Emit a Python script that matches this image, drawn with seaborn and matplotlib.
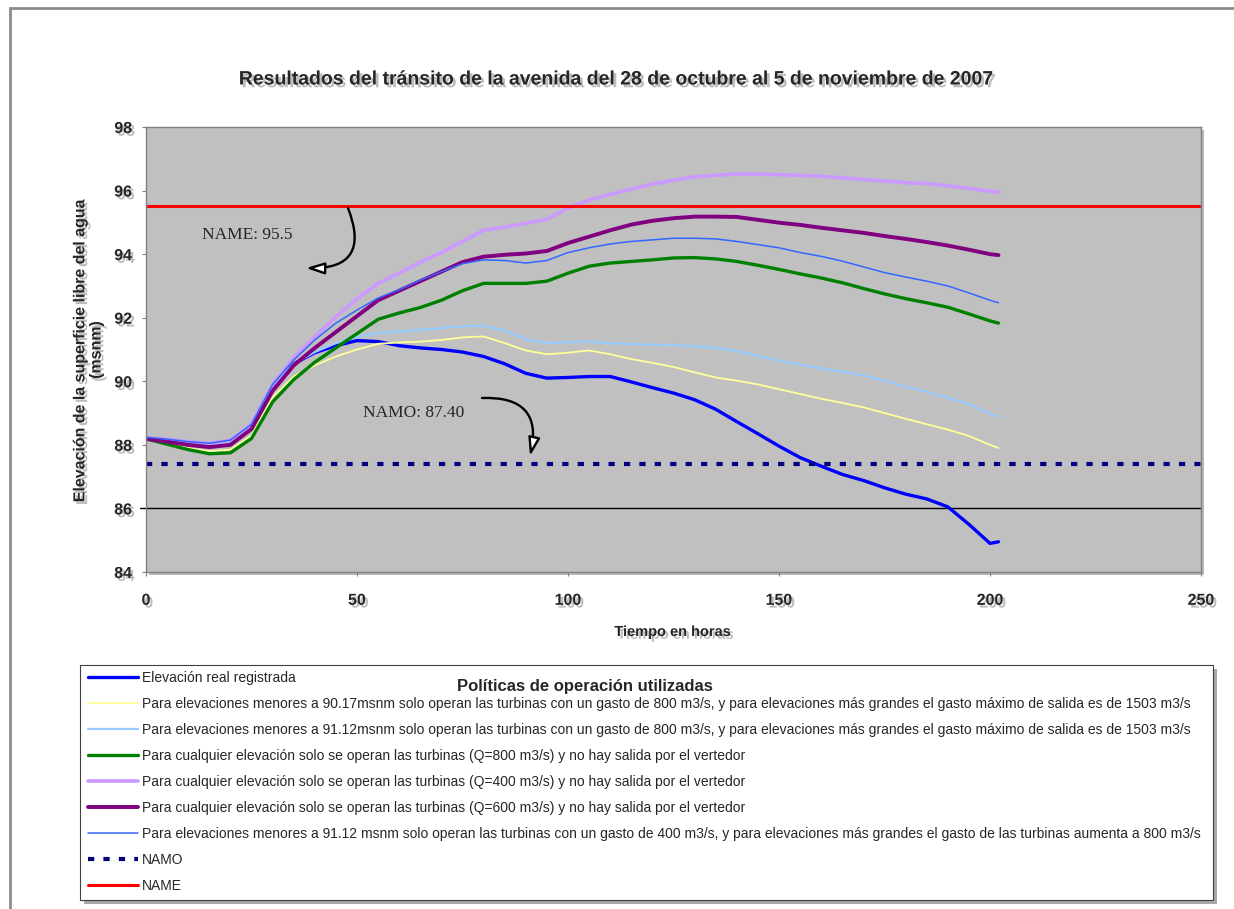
import matplotlib
matplotlib.use("Agg")
import matplotlib.pyplot as plt
import matplotlib.patheffects as pe
from matplotlib.patches import Rectangle
import seaborn as sns
import pandas as pd

# ---------------- data ----------------
horas = [0, 5, 10, 15, 20, 25, 30, 35, 40, 45, 50, 55, 60, 65, 70, 75, 80, 85, 90, 95,
         100, 105, 110, 115, 120, 125, 130, 135, 140, 145, 150, 155, 160, 165, 170, 175,
         180, 185, 190, 195, 200, 202]

elev_real = [88.20, 88.12, 88.02, 87.96, 88.05, 88.50, 89.85, 90.55, 90.90, 91.12, 91.28, 91.25,
             91.12, 91.05, 91.00, 90.92, 90.78, 90.55, 90.25, 90.10, 90.12, 90.15, 90.15, 89.98,
             89.80, 89.63, 89.42, 89.12, 88.73, 88.35, 87.96, 87.60, 87.33, 87.07, 86.88, 86.65,
             86.45, 86.30, 86.05, 85.50, 84.90, 84.95]

pol_9017 = [88.19, 88.05, 87.90, 87.80, 87.85, 88.30, 89.50, 90.15, 90.50, 90.78, 91.00, 91.18,
            91.22, 91.25, 91.30, 91.38, 91.41, 91.20, 90.97, 90.85, 90.90, 90.97, 90.85, 90.70,
            90.58, 90.45, 90.28, 90.12, 90.02, 89.90, 89.75, 89.60, 89.45, 89.32, 89.18, 89.00,
            88.82, 88.65, 88.48, 88.28, 88.00, 87.90]

pol_9112 = [88.20, 88.12, 88.03, 87.98, 88.08, 88.55, 89.85, 90.55, 90.92, 91.20, 91.40, 91.52,
            91.57, 91.62, 91.67, 91.73, 91.74, 91.60, 91.32, 91.20, 91.23, 91.25, 91.20, 91.17,
            91.15, 91.14, 91.10, 91.05, 90.95, 90.80, 90.65, 90.52, 90.40, 90.30, 90.18, 90.02,
            89.83, 89.67, 89.48, 89.28, 88.98, 88.89]

q800 = [88.19, 88.02, 87.85, 87.72, 87.75, 88.20, 89.35, 90.05, 90.60, 91.05, 91.50, 91.95,
        92.15, 92.32, 92.55, 92.85, 93.08, 93.08, 93.08, 93.15, 93.40, 93.62, 93.72, 93.77,
        93.82, 93.88, 93.89, 93.85, 93.77, 93.65, 93.52, 93.38, 93.25, 93.10, 92.92, 92.75,
        92.60, 92.47, 92.33, 92.12, 91.90, 91.83]

q400 = [88.22, 88.18, 88.10, 88.05, 88.15, 88.65, 89.90, 90.74, 91.41, 92.03, 92.60, 93.08,
        93.40, 93.75, 94.05, 94.40, 94.75, 94.85, 94.97, 95.10, 95.45, 95.70, 95.88, 96.05,
        96.20, 96.33, 96.43, 96.48, 96.52, 96.52, 96.50, 96.48, 96.45, 96.40, 96.35, 96.30,
        96.25, 96.22, 96.15, 96.07, 95.98, 95.95]

q600 = [88.19, 88.10, 88.00, 87.93, 88.00, 88.50, 89.70, 90.50, 91.05, 91.55, 92.05, 92.55,
        92.85, 93.15, 93.45, 93.75, 93.92, 93.98, 94.02, 94.10, 94.35, 94.55, 94.75, 94.93,
        95.05, 95.13, 95.18, 95.18, 95.17, 95.08, 94.99, 94.92, 94.83, 94.75, 94.67, 94.57,
        94.48, 94.38, 94.27, 94.14, 94.00, 93.97]

pol_9112_400 = [88.24, 88.18, 88.10, 88.05, 88.15, 88.65, 89.90, 90.67, 91.30, 91.83, 92.24, 92.62,
                92.88, 93.18, 93.45, 93.70, 93.82, 93.80, 93.72, 93.80, 94.05, 94.20, 94.32, 94.40,
                94.45, 94.50, 94.50, 94.48, 94.40, 94.30, 94.20, 94.05, 93.93, 93.78, 93.60, 93.42,
                93.28, 93.15, 93.00, 92.78, 92.55, 92.47]

NAMO = 87.40
NAME = 95.5

labels = [
    "Elevación real registrada",
    "Para elevaciones menores a 90.17msnm solo operan las turbinas con un gasto de 800 m3/s, y para elevaciones más grandes el gasto máximo de salida es de 1503 m3/s",
    "Para elevaciones menores a 91.12msnm solo operan las turbinas con un gasto de 800 m3/s, y para elevaciones más grandes el gasto máximo de salida es de 1503 m3/s",
    "Para cualquier elevación solo se operan las turbinas (Q=800 m3/s) y no hay salida por el vertedor",
    "Para cualquier elevación solo se operan las turbinas (Q=400 m3/s) y no hay salida por el vertedor",
    "Para cualquier elevación solo se operan las turbinas (Q=600 m3/s) y no hay salida por el vertedor",
    "Para elevaciones menores a 91.12 msnm solo operan las turbinas con un gasto de 400 m3/s, y para elevaciones más grandes el gasto de las turbinas aumenta a 800 m3/s",
    "NAMO",
    "NAME",
]
series = [elev_real, pol_9017, pol_9112, q800, q400, q600, pol_9112_400]
colors = ["#0000FF", "#FFFF99", "#99CCFF", "#008000", "#CC99FF", "#800080", "#3366FF"]
widths = [2.4, 1.3, 1.6, 2.4, 2.6, 2.8, 1.1]

y_ticks = [84, 86, 88, 90, 92, 94, 96, 98]
x_ticks = [0, 50, 100, 150, 200, 250]

# ---------------- figure ----------------
sns.set_style("white")
plt.rcParams["font.family"] = ["Liberation Sans", "DejaVu Sans"]

W, H = 1234, 909
fig = plt.figure(figsize=(W / 100, H / 100), dpi=100)

def fx(px):
    return px / W

def fy(py):
    return 1 - py / H

# outer frame
fig.patches.append(Rectangle((fx(10), -0.1), 1.5, fy(8) + 0.1, transform=fig.transFigure,
                             fill=False, ec="#8c8c8c", lw=2.0, zorder=0))

ax_l, ax_r, ax_t, ax_b = 146, 1201, 127, 572
# axes shadow
fig.patches.append(Rectangle((fx(ax_l + 3), fy(ax_b + 3)), fx(ax_r - ax_l), fy(ax_t) - fy(ax_b),
                             transform=fig.transFigure, fc="#b8b8b8", ec="none", zorder=0))
ax = fig.add_axes([fx(ax_l), fy(ax_b), fx(ax_r - ax_l), fy(ax_t) - fy(ax_b)])
ax.set_zorder(2)
ax.set_facecolor("#C0C0C0")

shadow = [pe.withSimplePatchShadow(offset=(2, -2), shadow_rgbFace="#888888", alpha=0.55)]

for vals, lab, col, lw in zip(series, labels[:7], colors, widths):
    df = pd.DataFrame({"t": horas, "z": vals})
    sns.lineplot(data=df, x="t", y="z", color=col, linewidth=lw, ax=ax, label=lab)
ax.axhline(NAMO, color="#000080", lw=3, ls=(0, (1.5, 2.2)), label=labels[7])
ax.axhline(NAME, color="#FF0000", lw=2.2, label=labels[8])
ax.axhline(86, color="black", lw=1.0, xmin=-0.006, clip_on=False, zorder=1)

ax.set_xlim(0, 250)
ax.set_ylim(84, 98)
ax.set_xticks(x_ticks)
ax.set_yticks(y_ticks)
ax.set_xlabel("")
ax.set_ylabel("")
ax.tick_params(axis="x", length=3, pad=12, labelsize=11.5, color="#808080", direction="out", bottom=True)
ax.tick_params(axis="y", length=3, pad=7, labelsize=11.5, color="#808080", direction="out", left=True)
for lab in ax.get_xticklabels() + ax.get_yticklabels():
    lab.set_fontweight("bold")
    lab.set_path_effects(shadow)
for s in ax.spines.values():
    s.set_color("#808080")
    s.set_linewidth(1.0)

# annotations
def dx(px):
    return (px - ax_l) / (ax_r - ax_l) * 250

def dy(py):
    return 98 - (py - ax_t) / (ax_b - ax_t) * 14

ax.text(dx(247), dy(235), "NAME: 95.5", family=["Liberation Serif", "DejaVu Serif"],
        fontsize=12.5, ha="center", va="center")
ax.text(dx(414), dy(413), "NAMO: 87.40", family=["Liberation Serif", "DejaVu Serif"],
        fontsize=12.5, ha="center", va="center")
arrow_kw = dict(arrowstyle="-|>,head_length=1.1,head_width=0.35", fc="white", ec="black", lw=1.7,
                shrinkA=0, shrinkB=0)
ax.annotate("", xy=(dx(306), dy(268)), xytext=(dx(348), dy(208)),
            arrowprops=dict(connectionstyle="arc3,rad=-0.75", **arrow_kw))
ax.annotate("", xy=(dx(530), dy(456)), xytext=(dx(482), dy(398)),
            arrowprops=dict(connectionstyle="arc3,rad=-0.65", **arrow_kw))

hs, ls = ax.get_legend_handles_labels()
ax.get_legend().remove()

# titles
fig.text(fx(616), fy(80), "Resultados del tránsito de la avenida del 28 de octubre al 5 de noviembre de 2007",
         ha="center", va="center", fontsize=14, fontweight="bold", path_effects=shadow)
fig.text(fx(673), fy(632), "Tiempo en horas", ha="center", va="center", fontsize=10.5,
         fontweight="bold", path_effects=shadow)
fig.text(fx(88), fy(350), "Elevación de la superficie libre del agua\n(msnm)", ha="center",
         va="center", rotation=90, fontsize=11.5, fontweight="bold", multialignment="center",
         linespacing=1.1, path_effects=shadow)

# legend box
lb_l, lb_t, lb_r, lb_b = 80, 665, 1213, 900
fig.patches.append(Rectangle((fx(lb_l + 4), fy(lb_b + 4)), fx(lb_r - lb_l), fy(lb_t) - fy(lb_b),
                             transform=fig.transFigure, fc="#a8a8a8", ec="none", zorder=1))
fig.patches.append(Rectangle((fx(lb_l), fy(lb_b)), fx(lb_r - lb_l), fy(lb_t) - fy(lb_b),
                             transform=fig.transFigure, fc="white", ec="#404040", lw=0.8, zorder=1))
leg = fig.legend(hs, ls, loc="upper left", bbox_to_anchor=(fx(88), fy(671)), frameon=False,
                 fontsize=10.0, handlelength=3.6, handletextpad=0.3, labelspacing=0.86,
                 borderpad=0, borderaxespad=0)
leg.set_zorder(3)
fig.text(fx(585), fy(686), "Políticas de operación utilizadas", ha="center", va="center",
         fontsize=12, fontweight="bold", zorder=4)

fig.savefig("out.png", dpi=100)
